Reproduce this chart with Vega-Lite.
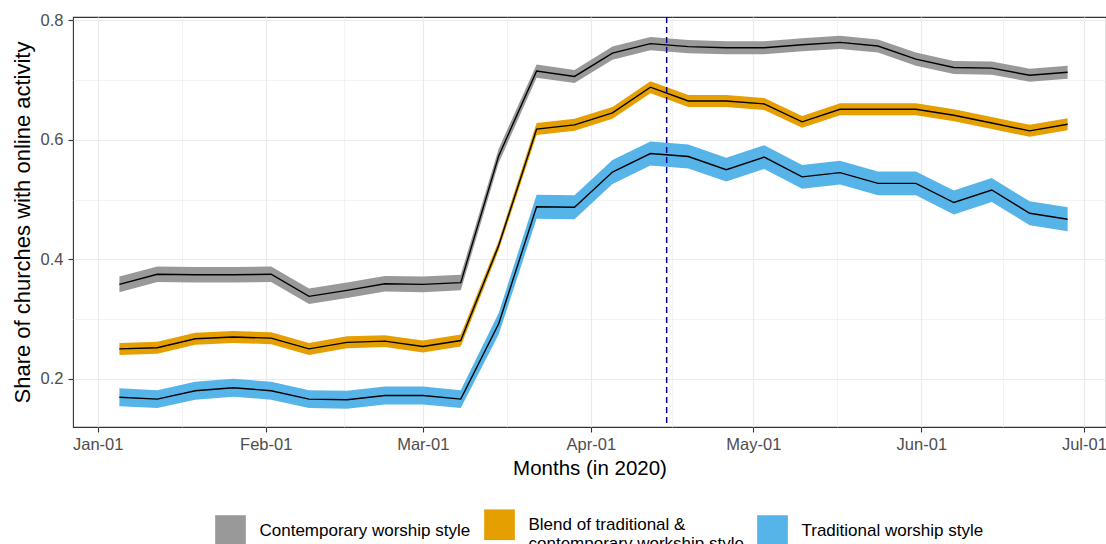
{
  "$schema": "https://vega.github.io/schema/vega-lite/v6.json",
  "autosize": {"type": "none"},
  "width": 1033,
  "height": 410,
  "padding": {"left": 73, "top": 17, "right": 0, "bottom": 117},
  "background": "white",
  "datasets": {
    "series": [
      {"d": "2020-01-05", "style": "Contemporary worship style", "v": 0.358, "lo": 0.345, "hi": 0.371},
      {"d": "2020-01-12", "style": "Contemporary worship style", "v": 0.375, "lo": 0.362, "hi": 0.388},
      {"d": "2020-01-19", "style": "Contemporary worship style", "v": 0.374, "lo": 0.361, "hi": 0.387},
      {"d": "2020-01-26", "style": "Contemporary worship style", "v": 0.374, "lo": 0.361, "hi": 0.387},
      {"d": "2020-02-02", "style": "Contemporary worship style", "v": 0.375, "lo": 0.362, "hi": 0.388},
      {"d": "2020-02-09", "style": "Contemporary worship style", "v": 0.338, "lo": 0.325, "hi": 0.351},
      {"d": "2020-02-16", "style": "Contemporary worship style", "v": 0.348, "lo": 0.335, "hi": 0.361},
      {"d": "2020-02-23", "style": "Contemporary worship style", "v": 0.359, "lo": 0.346, "hi": 0.372},
      {"d": "2020-03-01", "style": "Contemporary worship style", "v": 0.358, "lo": 0.345, "hi": 0.371},
      {"d": "2020-03-08", "style": "Contemporary worship style", "v": 0.361, "lo": 0.348, "hi": 0.374},
      {"d": "2020-03-15", "style": "Contemporary worship style", "v": 0.573, "lo": 0.561, "hi": 0.585},
      {"d": "2020-03-22", "style": "Contemporary worship style", "v": 0.715, "lo": 0.704, "hi": 0.726},
      {"d": "2020-03-29", "style": "Contemporary worship style", "v": 0.706, "lo": 0.695, "hi": 0.717},
      {"d": "2020-04-05", "style": "Contemporary worship style", "v": 0.745, "lo": 0.734, "hi": 0.756},
      {"d": "2020-04-12", "style": "Contemporary worship style", "v": 0.761, "lo": 0.750, "hi": 0.772},
      {"d": "2020-04-19", "style": "Contemporary worship style", "v": 0.756, "lo": 0.745, "hi": 0.767},
      {"d": "2020-04-26", "style": "Contemporary worship style", "v": 0.754, "lo": 0.743, "hi": 0.765},
      {"d": "2020-05-03", "style": "Contemporary worship style", "v": 0.754, "lo": 0.743, "hi": 0.765},
      {"d": "2020-05-10", "style": "Contemporary worship style", "v": 0.759, "lo": 0.748, "hi": 0.770},
      {"d": "2020-05-17", "style": "Contemporary worship style", "v": 0.763, "lo": 0.752, "hi": 0.774},
      {"d": "2020-05-24", "style": "Contemporary worship style", "v": 0.757, "lo": 0.746, "hi": 0.768},
      {"d": "2020-05-31", "style": "Contemporary worship style", "v": 0.735, "lo": 0.724, "hi": 0.746},
      {"d": "2020-06-07", "style": "Contemporary worship style", "v": 0.721, "lo": 0.710, "hi": 0.732},
      {"d": "2020-06-14", "style": "Contemporary worship style", "v": 0.720, "lo": 0.709, "hi": 0.731},
      {"d": "2020-06-21", "style": "Contemporary worship style", "v": 0.708, "lo": 0.697, "hi": 0.719},
      {"d": "2020-06-28", "style": "Contemporary worship style", "v": 0.713, "lo": 0.702, "hi": 0.724},

      {"d": "2020-01-05", "style": "Blend of traditional & contemporary workship style", "v": 0.250, "lo": 0.240, "hi": 0.260},
      {"d": "2020-01-12", "style": "Blend of traditional & contemporary workship style", "v": 0.252, "lo": 0.242, "hi": 0.262},
      {"d": "2020-01-19", "style": "Blend of traditional & contemporary workship style", "v": 0.267, "lo": 0.257, "hi": 0.277},
      {"d": "2020-01-26", "style": "Blend of traditional & contemporary workship style", "v": 0.270, "lo": 0.260, "hi": 0.280},
      {"d": "2020-02-02", "style": "Blend of traditional & contemporary workship style", "v": 0.268, "lo": 0.258, "hi": 0.278},
      {"d": "2020-02-09", "style": "Blend of traditional & contemporary workship style", "v": 0.250, "lo": 0.240, "hi": 0.260},
      {"d": "2020-02-16", "style": "Blend of traditional & contemporary workship style", "v": 0.261, "lo": 0.251, "hi": 0.271},
      {"d": "2020-02-23", "style": "Blend of traditional & contemporary workship style", "v": 0.263, "lo": 0.253, "hi": 0.273},
      {"d": "2020-03-01", "style": "Blend of traditional & contemporary workship style", "v": 0.254, "lo": 0.244, "hi": 0.264},
      {"d": "2020-03-08", "style": "Blend of traditional & contemporary workship style", "v": 0.264, "lo": 0.254, "hi": 0.274},
      {"d": "2020-03-15", "style": "Blend of traditional & contemporary workship style", "v": 0.423, "lo": 0.415, "hi": 0.431},
      {"d": "2020-03-22", "style": "Blend of traditional & contemporary workship style", "v": 0.618, "lo": 0.608, "hi": 0.628},
      {"d": "2020-03-29", "style": "Blend of traditional & contemporary workship style", "v": 0.625, "lo": 0.615, "hi": 0.635},
      {"d": "2020-04-05", "style": "Blend of traditional & contemporary workship style", "v": 0.645, "lo": 0.635, "hi": 0.655},
      {"d": "2020-04-12", "style": "Blend of traditional & contemporary workship style", "v": 0.688, "lo": 0.678, "hi": 0.698},
      {"d": "2020-04-19", "style": "Blend of traditional & contemporary workship style", "v": 0.665, "lo": 0.655, "hi": 0.675},
      {"d": "2020-04-26", "style": "Blend of traditional & contemporary workship style", "v": 0.665, "lo": 0.655, "hi": 0.675},
      {"d": "2020-05-03", "style": "Blend of traditional & contemporary workship style", "v": 0.660, "lo": 0.650, "hi": 0.670},
      {"d": "2020-05-10", "style": "Blend of traditional & contemporary workship style", "v": 0.630, "lo": 0.620, "hi": 0.640},
      {"d": "2020-05-17", "style": "Blend of traditional & contemporary workship style", "v": 0.651, "lo": 0.641, "hi": 0.661},
      {"d": "2020-05-24", "style": "Blend of traditional & contemporary workship style", "v": 0.651, "lo": 0.641, "hi": 0.661},
      {"d": "2020-05-31", "style": "Blend of traditional & contemporary workship style", "v": 0.651, "lo": 0.641, "hi": 0.661},
      {"d": "2020-06-07", "style": "Blend of traditional & contemporary workship style", "v": 0.641, "lo": 0.631, "hi": 0.651},
      {"d": "2020-06-14", "style": "Blend of traditional & contemporary workship style", "v": 0.628, "lo": 0.618, "hi": 0.638},
      {"d": "2020-06-21", "style": "Blend of traditional & contemporary workship style", "v": 0.615, "lo": 0.605, "hi": 0.625},
      {"d": "2020-06-28", "style": "Blend of traditional & contemporary workship style", "v": 0.626, "lo": 0.616, "hi": 0.636},

      {"d": "2020-01-05", "style": "Traditional worship style", "v": 0.169, "lo": 0.154, "hi": 0.184},
      {"d": "2020-01-12", "style": "Traditional worship style", "v": 0.166, "lo": 0.151, "hi": 0.181},
      {"d": "2020-01-19", "style": "Traditional worship style", "v": 0.180, "lo": 0.165, "hi": 0.195},
      {"d": "2020-01-26", "style": "Traditional worship style", "v": 0.185, "lo": 0.170, "hi": 0.200},
      {"d": "2020-02-02", "style": "Traditional worship style", "v": 0.180, "lo": 0.165, "hi": 0.195},
      {"d": "2020-02-09", "style": "Traditional worship style", "v": 0.166, "lo": 0.151, "hi": 0.181},
      {"d": "2020-02-16", "style": "Traditional worship style", "v": 0.165, "lo": 0.150, "hi": 0.180},
      {"d": "2020-02-23", "style": "Traditional worship style", "v": 0.172, "lo": 0.157, "hi": 0.187},
      {"d": "2020-03-01", "style": "Traditional worship style", "v": 0.172, "lo": 0.157, "hi": 0.187},
      {"d": "2020-03-08", "style": "Traditional worship style", "v": 0.166, "lo": 0.151, "hi": 0.181},
      {"d": "2020-03-15", "style": "Traditional worship style", "v": 0.292, "lo": 0.274, "hi": 0.310},
      {"d": "2020-03-22", "style": "Traditional worship style", "v": 0.488, "lo": 0.468, "hi": 0.508},
      {"d": "2020-03-29", "style": "Traditional worship style", "v": 0.487, "lo": 0.467, "hi": 0.507},
      {"d": "2020-04-05", "style": "Traditional worship style", "v": 0.546, "lo": 0.526, "hi": 0.566},
      {"d": "2020-04-12", "style": "Traditional worship style", "v": 0.577, "lo": 0.557, "hi": 0.597},
      {"d": "2020-04-19", "style": "Traditional worship style", "v": 0.572, "lo": 0.552, "hi": 0.592},
      {"d": "2020-04-26", "style": "Traditional worship style", "v": 0.550, "lo": 0.530, "hi": 0.570},
      {"d": "2020-05-03", "style": "Traditional worship style", "v": 0.571, "lo": 0.551, "hi": 0.591},
      {"d": "2020-05-10", "style": "Traditional worship style", "v": 0.538, "lo": 0.518, "hi": 0.558},
      {"d": "2020-05-17", "style": "Traditional worship style", "v": 0.545, "lo": 0.525, "hi": 0.565},
      {"d": "2020-05-24", "style": "Traditional worship style", "v": 0.527, "lo": 0.507, "hi": 0.547},
      {"d": "2020-05-31", "style": "Traditional worship style", "v": 0.527, "lo": 0.507, "hi": 0.547},
      {"d": "2020-06-07", "style": "Traditional worship style", "v": 0.495, "lo": 0.475, "hi": 0.515},
      {"d": "2020-06-14", "style": "Traditional worship style", "v": 0.516, "lo": 0.496, "hi": 0.536},
      {"d": "2020-06-21", "style": "Traditional worship style", "v": 0.477, "lo": 0.457, "hi": 0.497},
      {"d": "2020-06-28", "style": "Traditional worship style", "v": 0.467, "lo": 0.447, "hi": 0.487}
    ],
    "marker": [
      {"d": "2020-04-15"}
    ]
  },
  "encoding": {
    "x": {
      "field": "d",
      "type": "temporal",
      "scale": {
        "type": "utc",
        "domain": [
          {"year": 2019, "month": 12, "date": 27, "hours": 10, "minutes": 30, "utc": true},
          {"year": 2020, "month": 7, "date": 5, "hours": 2, "utc": true}
        ]
      },
      "axis": {
        "title": "Months (in 2020)",
        "values": [
          {"year": 2020, "month": 1, "date": 1, "utc": true},
          {"year": 2020, "month": 1, "date": 16, "hours": 12, "utc": true},
          {"year": 2020, "month": 2, "date": 1, "utc": true},
          {"year": 2020, "month": 2, "date": 15, "hours": 12, "utc": true},
          {"year": 2020, "month": 3, "date": 1, "utc": true},
          {"year": 2020, "month": 3, "date": 16, "hours": 12, "utc": true},
          {"year": 2020, "month": 4, "date": 1, "utc": true},
          {"year": 2020, "month": 4, "date": 16, "utc": true},
          {"year": 2020, "month": 5, "date": 1, "utc": true},
          {"year": 2020, "month": 5, "date": 16, "hours": 12, "utc": true},
          {"year": 2020, "month": 6, "date": 1, "utc": true},
          {"year": 2020, "month": 6, "date": 16, "utc": true},
          {"year": 2020, "month": 7, "date": 1, "utc": true}
        ],
        "labelExpr": "utcdate(datum.value) == 1 ? utcFormat(datum.value, '%b-%d') : ''",
        "tickOpacity": {"condition": {"test": "utcdate(datum.value) == 1", "value": 1}, "value": 0},
        "gridWidth": {"condition": {"test": "utcdate(datum.value) == 1", "value": 1.2}, "value": 0.6},
        "labelPadding": 4,
        "titlePadding": 6
      }
    }
  },
  "layer": [
    {
      "data": {"name": "series"},
      "mark": {"type": "area", "opacity": 1},
      "encoding": {
        "y": {
          "field": "lo",
          "type": "quantitative",
          "scale": {"domain": [0.1193, 0.8055], "nice": false, "zero": false},
          "axis": {
            "title": "Share of churches with online activity",
            "values": [0.2, 0.3, 0.4, 0.5, 0.6, 0.7, 0.8],
            "labelExpr": "round(datum.value * 10) % 2 == 0 ? format(datum.value, '.1f') : ''",
            "tickOpacity": {"condition": {"test": "round(datum.value * 10) % 2 == 0", "value": 1}, "value": 0},
            "gridWidth": {"condition": {"test": "round(datum.value * 10) % 2 == 0", "value": 1.2}, "value": 0.6},
            "labelPadding": 5,
            "titleFontSize": 22,
            "titlePadding": 6
          }
        },
        "y2": {"field": "hi"},
        "fill": {
          "field": "style",
          "type": "nominal",
          "scale": {
            "domain": ["Contemporary worship style", "Blend of traditional & contemporary workship style", "Traditional worship style"],
            "range": ["#999999", "#E69F00", "#56B4E9"]
          },
          "legend": {
            "title": null,
            "orient": "none",
            "legendX": 142,
            "legendY": 492,
            "direction": "horizontal",
            "symbolType": "square",
            "symbolSize": 942,
            "symbolStrokeWidth": 0,
            "symbolOpacity": 1,
            "labelFontSize": 17,
            "labelColor": "#000000",
            "labelOffset": 13.5,
            "columnPadding": 13,
            "labelLimit": 400,
            "labelExpr": "datum.value == 'Blend of traditional & contemporary workship style' ? ['Blend of traditional &', ' contemporary workship style'] : datum.value"
          }
        }
      }
    },
    {
      "data": {"name": "series"},
      "mark": {"type": "line", "color": "#000000", "strokeWidth": 1.4},
      "encoding": {
        "y": {"field": "v", "type": "quantitative"},
        "detail": {"field": "style", "type": "nominal"}
      }
    },
    {
      "data": {"name": "marker"},
      "mark": {"type": "rule", "color": "#00008B", "strokeWidth": 1.5, "strokeDash": [6, 4]},
      "encoding": {}
    }
  ],
  "config": {
    "font": "Liberation Sans",
    "view": {"stroke": "#333333", "strokeWidth": 1.1},
    "axis": {
      "domain": false,
      "gridColor": "#EBEBEB",
      "tickColor": "#333333",
      "tickSize": 5,
      "tickWidth": 1.1,
      "labelColor": "#4D4D4D",
      "labelFontSize": 16.5,
      "labelFlush": false,
      "labelOverlap": false,
      "titleFontSize": 20.5,
      "titleFontWeight": "normal",
      "titleColor": "#000000"
    }
  }
}
